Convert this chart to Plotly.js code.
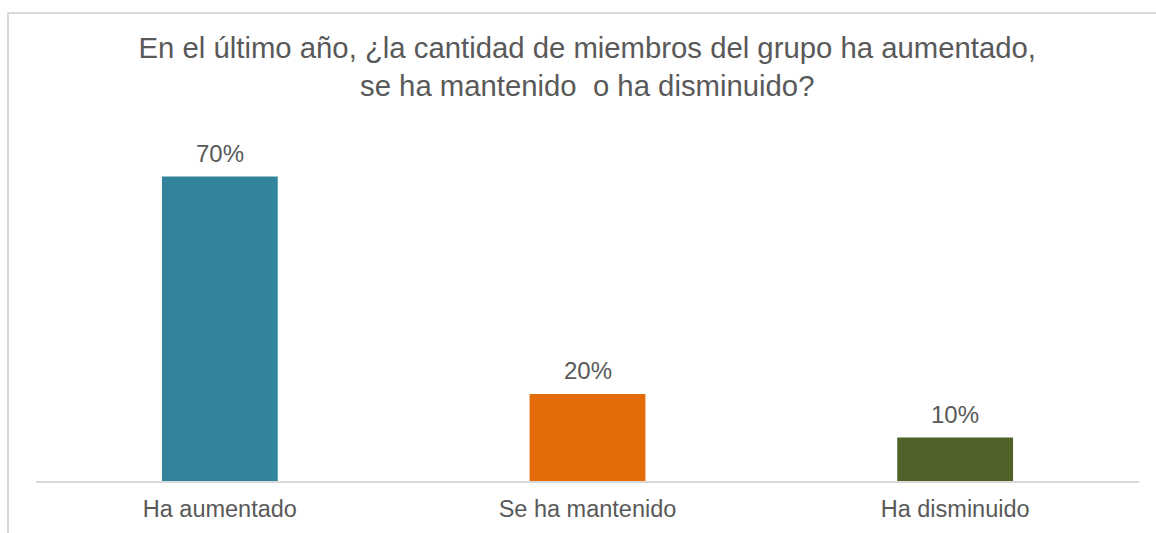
<!DOCTYPE html>
<html>
<head>
<meta charset="utf-8">
<script src="https://cdn.plot.ly/plotly-3.0.1.min.js"></script>
<style>
  html, body { margin: 0; padding: 0; background: #ffffff; }
  #wrap { position: relative; width: 1156px; height: 533px; overflow: hidden; }
  #chart { position: absolute; left: 0; top: 0; width: 1156px; height: 533px; }
  #frame { position: absolute; left: 7px; top: 12px; width: 1200px; height: 600px;
           border-top: 2px solid #d9d9d9; border-left: 2px solid #d9d9d9; pointer-events: none; }
</style>
</head>
<body>
<div id="wrap">
  <div id="chart"></div>
  <div id="frame"></div>
</div>
<script>
// Respuestas a la pregunta sobre la evolución del número de miembros
const categories = ["Ha aumentado", "Se ha mantenido", "Ha disminuido"];
const percentages = [70, 20, 10];
const barColors = ["#31849b", "#e36c09", "#4f6228"];

const textColor = "#595959";
const fontFamily = "'Liberation Sans', Arial, sans-serif";

const trace = {
  type: "bar",
  x: categories,
  y: percentages,
  marker: { color: barColors, line: { width: 0 } },
  hoverinfo: "skip"
};

// Etiquetas de porcentaje sobre cada barra
const labels = categories.map((c, i) => ({
  x: c,
  y: percentages[i],
  xref: "x",
  yref: "y",
  text: percentages[i] + "%",
  showarrow: false,
  yanchor: "bottom",
  yshift: 8,
  font: { family: fontFamily, size: 24, color: textColor }
}));

const layout = {
  width: 1156,
  height: 533,
  paper_bgcolor: "#ffffff",
  plot_bgcolor: "#ffffff",
  margin: { l: 36, r: 17, t: 133, b: 52 },
  bargap: 0.685,
  showlegend: false,
  font: { family: fontFamily, color: textColor },
  title: {
    text: "En el último año, ¿la cantidad de miembros del grupo ha aumentado,<br>se ha mantenido  o ha disminuido?",
    x: 0.508,
    xanchor: "center",
    y: 0.891,
    yanchor: "middle",
    font: { family: fontFamily, size: 29.3, color: textColor }
  },
  xaxis: {
    type: "category",
    showline: true,
    linecolor: "#d9d9d9",
    linewidth: 2,
    showgrid: false,
    zeroline: false,
    ticks: "",
    ticklabelstandoff: 6,
    tickfont: { family: fontFamily, size: 23.5, color: textColor }
  },
  yaxis: {
    range: [0, 80],
    visible: false,
    showgrid: false,
    zeroline: false
  },
  annotations: labels
};

Plotly.newPlot("chart", [trace], layout, { staticPlot: true, displayModeBar: false });
</script>
</body>
</html>
